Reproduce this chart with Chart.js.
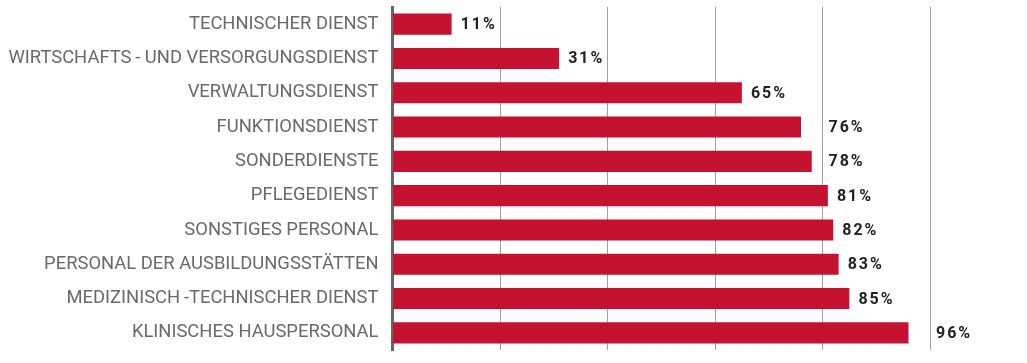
<!DOCTYPE html>
<html>
<head>
<meta charset="utf-8">
<script src="https://cdn.jsdelivr.net/npm/chart.js@4"></script>
<style>
  html, body { margin: 0; padding: 0; background: #fff; }
  #wrap { width: 1027px; height: 363px; }
</style>
</head>
<body>
<div id="wrap"><canvas id="myChart"></canvas></div>
<script>
// categories and values (percent)
const categories = [
  'TECHNISCHER DIENST',
  'WIRTSCHAFTS\u2009- UND VERSORGUNGSDIENST',
  'VERWALTUNGSDIENST',
  'FUNKTIONSDIENST',
  'SONDERDIENSTE',
  'PFLEGEDIENST',
  'SONSTIGES PERSONAL',
  'PERSONAL DER AUSBILDUNGSSTÄTTEN',
  'MEDIZINISCH\u2009-TECHNISCHER DIENST',
  'KLINISCHES HAUSPERSONAL'
];
const shares = [11, 31, 65, 76, 78, 81, 82, 83, 85, 96];
const xTicks = [0, 20, 40, 60, 80, 100];

const barColor = '#c41230';
const labelFont = 'bold 16px Roboto';

// value labels right of the bars, pushed past a gridline if they would sit on it
const valueLabels = {
  id: 'valueLabels',
  afterDatasetsDraw(chart) {
    const ctx = chart.ctx;
    const xs = chart.scales.x;
    const grids = xTicks.slice(1).map(v => xs.getPixelForValue(v));
    const meta = chart.getDatasetMeta(0);
    ctx.save();
    ctx.font = labelFont;
    ctx.letterSpacing = '2px';
    ctx.fillStyle = '#222';
    ctx.textBaseline = 'middle';
    ctx.textAlign = 'left';
    meta.data.forEach((bar, i) => {
      const txt = shares[i] + '%';
      const w = ctx.measureText(txt).width;
      let x = bar.x + 9;
      grids.forEach(g => {
        if (g > x - 4 && g < x + w) x = g + 6;
      });
      ctx.fillText(txt, x, bar.y + 1);
    });
    ctx.restore();
  }
};

new Chart(document.getElementById('myChart'), {
  type: 'bar',
  data: {
    labels: categories,
    datasets: [{
      data: shares,
      backgroundColor: barColor,
      barPercentage: 0.614,
      categoryPercentage: 1
    }]
  },
  options: {
    indexAxis: 'y',
    responsive: true,
    maintainAspectRatio: false,
    animation: false,
    layout: { padding: { top: 7, right: 97, bottom: 13, left: 0 } },
    plugins: {
      legend: { display: false },
      tooltip: { enabled: false }
    },
    scales: {
      x: {
        min: 0,
        max: 100,
        afterBuildTicks: (scale) => { scale.ticks = xTicks.map(v => ({ value: v })); },
        ticks: { display: false },
        grid: { color: '#a0a0a0', lineWidth: 1, drawTicks: false },
        border: { display: false }
      },
      y: {
        afterFit: (scale) => {
          scale.width = 392.5;
          scale.paddingTop = 0;
          scale.paddingBottom = 0;
        },
        ticks: {
          color: '#6a6a6a',
          font: { family: 'Roboto', size: 18.4 },
          padding: 14
        },
        grid: { display: false, drawTicks: false },
        border: { display: true, color: '#666', width: 3 }
      }
    }
  },
  plugins: [valueLabels]
});
</script>
</body>
</html>
